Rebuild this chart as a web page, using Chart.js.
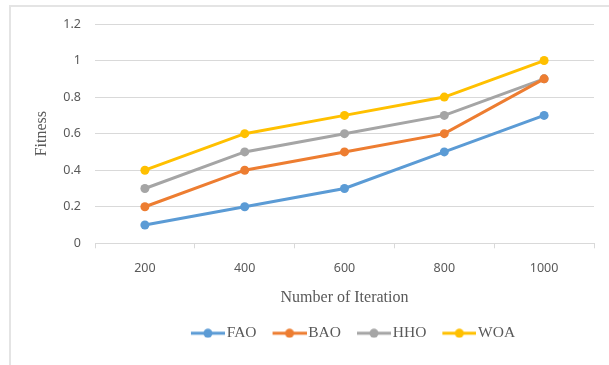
<!DOCTYPE html>
<html>
<head>
<meta charset="utf-8">
<script src="https://cdn.jsdelivr.net/npm/chart.js@4"></script>
<style>
  html, body { margin: 0; padding: 0; background: #ffffff; }
  #wrap { position: relative; width: 609px; height: 365px; overflow: hidden; }
  #frame { position: absolute; left: 9px; top: 5px; width: 620px; height: 380px;
           border-left: 2px solid #e4e4e4; border-top: 2px solid #e4e4e4; }
  canvas { position: absolute; left: 0; top: 0; }
</style>
</head>
<body>
<div id="wrap">
  <div id="frame"></div>
  <canvas id="chart" width="609" height="365"></canvas>
</div>
<script>
// Iteration counts on the x axis
const iterations = ['200', '400', '600', '800', '1000'];

// Fitness per algorithm
const fao = [0.1, 0.2, 0.3, 0.5, 0.7];
const bao = [0.2, 0.4, 0.5, 0.6, 0.9];
const hho = [0.3, 0.5, 0.6, 0.7, 0.9];
const woa = [0.4, 0.6, 0.7, 0.8, 1.0];

// Y axis tick labels
const yTickLabels = ['0', '0.2', '0.4', '0.6', '0.8', '1', '1.2'];

const seriesNames = ['FAO', 'BAO', 'HHO', 'WOA'];
const seriesColors = ['#5b9bd5', '#ed7d31', '#a5a5a5', '#ffc000'];
const seriesValues = [fao, bao, hho, woa];

// Legend marker: short line with a dot in the middle, drawn in the
// right-hand part of a wider transparent image so it hugs the label text
function legendMarker(color) {
  const c = document.createElement('canvas');
  c.width = 42; c.height = 10;
  const g = c.getContext('2d');
  const x0 = c.width - 34;
  g.strokeStyle = color;
  g.lineWidth = 3;
  g.beginPath(); g.moveTo(x0, 5); g.lineTo(x0 + 34, 5); g.stroke();
  g.fillStyle = color;
  g.beginPath(); g.arc(x0 + 17, 5, 4.5, 0, Math.PI * 2); g.fill();
  return c;
}

const datasets = seriesNames.map((name, i) => ({
  label: name,
  data: seriesValues[i],
  borderColor: seriesColors[i],
  backgroundColor: seriesColors[i],
  pointBackgroundColor: seriesColors[i],
  pointBorderColor: seriesColors[i],
  borderWidth: 3,
  pointRadius: 4.5,
  pointBorderWidth: 0,
  tension: 0,
  pointStyle: 'circle',
  legendMarker: legendMarker(seriesColors[i])
}));

const tickFont = { family: "'Noto Sans', 'Open Sans', sans-serif", size: 12.5 };
const serifFamily = "'Liberation Serif', 'DejaVu Serif', serif";
const titleFont = { family: serifFamily, size: 16 };
const textGray = '#595959';

// Nudges the legend row sideways so it sits under the plot
const legendShift = {
  id: 'legendShift',
  afterLayout(chart, args, opts) {
    const lg = chart.legend;
    if (!lg) return;
    lg.left += opts.dx;
    lg.right += opts.dx;
  }
};

new Chart(document.getElementById('chart'), {
  type: 'line',
  data: { labels: iterations, datasets },
  plugins: [legendShift],
  options: {
    responsive: false,
    animation: false,
    devicePixelRatio: 1,
    layout: { padding: { left: 28, right: 15, top: 24, bottom: 14 } },
    plugins: {
      tooltip: { enabled: false },
      legendShift: { dx: 41 },
      legend: {
        position: 'bottom',
        align: 'center',
        labels: {
          usePointStyle: true,
          pointStyleWidth: 30,
          boxHeight: 10,
          padding: 14,
          color: textGray,
          font: { family: serifFamily, size: 15.5 },
          generateLabels(chart) {
            return chart.data.datasets.map((ds, i) => ({
              text: ds.label,
              fillStyle: ds.borderColor,
              strokeStyle: ds.borderColor,
              fontColor: textGray,
              lineWidth: 0,
              pointStyle: ds.legendMarker,
              hidden: false,
              datasetIndex: i
            }));
          }
        }
      }
    },
    scales: {
      x: {
        type: 'category',
        offset: true,
        grid: {
          offset: true,
          drawOnChartArea: false,
          drawTicks: true,
          tickLength: 5,
          color: '#d9d9d9'
        },
        border: { color: '#d9d9d9', width: 1 },
        ticks: { color: textGray, font: tickFont, padding: 12.5 },
        title: {
          display: true,
          text: 'Number of Iteration',
          color: textGray,
          font: titleFont,
          padding: { top: 0, bottom: 4 }
        }
      },
      y: {
        min: 0,
        max: 1.2,
        grid: { color: '#d9d9d9', drawTicks: false },
        border: { display: false },
        ticks: {
          stepSize: 0.2,
          color: textGray,
          font: tickFont,
          padding: 14,
          callback: (v, i) => yTickLabels[i]
        },
        title: {
          display: true,
          text: 'Fitness',
          color: textGray,
          font: titleFont,
          padding: { top: 4, bottom: 4 }
        },
        afterFit(scale) { scale.width = 67; }
      }
    }
  }
});
</script>
</body>
</html>
